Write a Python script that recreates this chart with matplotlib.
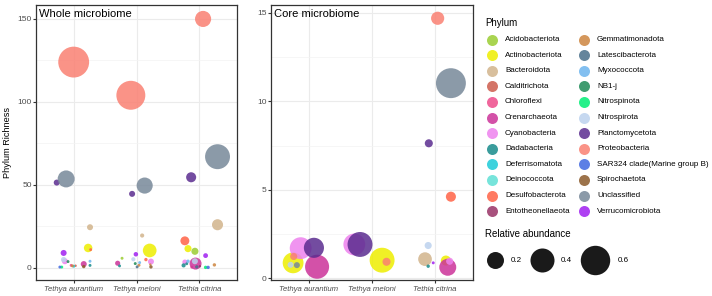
import numpy as np
import matplotlib
matplotlib.use("Agg")
import matplotlib.pyplot as plt
from matplotlib.ticker import MultipleLocator

plt.rcParams["font.family"] = ["Liberation Sans", "DejaVu Sans"]

species = ["Tethya aurantium", "Tethya meloni", "Tethia citrina"]

phyla = [
    "Acidobacteriota", "Actinobacteriota", "Bacteroidota", "Calditrichota",
    "Chloroflexi", "Crenarchaeota", "Cyanobacteria", "Dadabacteria",
    "Deferrisomatota", "Deinococcota", "Desulfobacterota", "Entotheonellaeota",
    "Gemmatimonadota", "Latescibacterota", "Myxococcota", "NB1-j",
    "Nitrospinota", "Nitrospirota", "Planctomycetota", "Proteobacteria",
    "SAR324 clade(Marine group B)", "Spirochaetota", "Unclassified",
    "Verrucomicrobiota",
]
phylum_colors = [
    "#9ACD32", "#EEEE00", "#D2B48C", "#CD5C4C",
    "#EE4B8B", "#CC3399", "#EE82EE", "#178B8B",
    "#1CCAD8", "#5FE0D5", "#FF6347", "#993366",
    "#CD853F", "#4A708B", "#6CB4EE", "#1E8B57",
    "#00EE76", "#BCD2EE", "#5B2C8F", "#FA8072",
    "#4169E1", "#8B5A2B", "#778899", "#A020F0",
]

# Whole microbiome: species index, jitter, phylum, richness, relative abundance
whole_species = [0, 0, 0, 0, 0, 0, 0, 0, 0, 0, 0, 0, 0, 0, 0, 0, 0, 0, 0, 0,
                 1, 1, 1, 1, 1, 1, 1, 1, 1, 1, 1, 1, 1, 1, 1, 1, 1, 1,
                 2, 2, 2, 2, 2, 2, 2, 2, 2, 2, 2, 2, 2, 2, 2, 2, 2, 2, 2, 2]
whole_jitter = [0.00, -0.12, -0.27, 0.26, 0.23, 0.27, -0.16, -0.16, -0.14, 0.16,
                -0.09, 0.26, 0.26, 0.16, -0.04, -0.02, 0.00, -0.22, -0.19, 0.03,
                -0.09, 0.13, -0.07, 0.09, 0.21, -0.01, -0.23, -0.05, 0.15, 0.23,
                -0.02, 0.05, -0.30, -0.27, 0.01, 0.04, 0.23, 0.22,
                0.06, 0.29, -0.13, 0.29, -0.23, -0.18, -0.07, 0.10, -0.06, -0.07,
                -0.23, -0.25, 0.24, 0.10, 0.14, -0.18, -0.04, -0.12, -0.20, 0.01]
whole_phylum = ["Proteobacteria", "Unclassified", "Planctomycetota", "Bacteroidota",
                "Actinobacteriota", "Desulfobacterota", "Verrucomicrobiota", "Nitrospirota",
                "Cyanobacteria", "Crenarchaeota", "NB1-j", "Myxococcota", "Dadabacteria",
                "Spirochaetota", "Chloroflexi", "Gemmatimonadota", "Deferrisomatota",
                "SAR324 clade(Marine group B)", "Nitrospinota", "Calditrichota",
                "Proteobacteria", "Unclassified", "Planctomycetota", "Bacteroidota",
                "Actinobacteriota", "Verrucomicrobiota", "Acidobacteriota", "Nitrospirota",
                "Desulfobacterota", "Cyanobacteria", "NB1-j", "Myxococcota", "Crenarchaeota",
                "Dadabacteria", "Latescibacterota", "Gemmatimonadota", "Spirochaetota",
                "Gemmatimonadota",
                "Proteobacteria", "Unclassified", "Planctomycetota", "Bacteroidota",
                "Desulfobacterota", "Actinobacteriota", "Acidobacteriota", "Verrucomicrobiota",
                "Crenarchaeota", "Nitrospirota", "Cyanobacteria", "Dadabacteria",
                "Gemmatimonadota", "Nitrospinota", "SAR324 clade(Marine group B)",
                "Myxococcota", "Latescibacterota", "Chloroflexi", "Dadabacteria",
                "Entotheonellaeota"]
whole_richness = [124, 53.6, 51.4, 24.5, 12, 11, 9, 5, 4, 2.3, 3.8, 4, 1.5,
                  0.8, 1.5, 1.2, 1, 0.5, 0.5, 1.3,
                  104, 49.6, 44.6, 19.5, 10.5, 8.2, 5.8, 5.2, 5, 3.8, 2.6, 3.2, 2.8,
                  1.2, 0.6, 1.6, 0.6, 2.0,
                  150, 67, 54.6, 26, 16.3, 11.6, 10, 7.4, 2.6, 4, 3.5, 1.5,
                  1.8, 0.3, 0.3, 4, 0.6, 0.5, 2.5, 1.0]
whole_abund = [0.66, 0.20, 0.025, 0.025, 0.05, 0.006, 0.025, 0.02, 0.025, 0.025,
               0.006, 0.006, 0.006, 0.008, 0.006, 0.006, 0.006, 0.006, 0.006, 0.004,
               0.58, 0.18, 0.025, 0.012, 0.13, 0.014, 0.006, 0.012, 0.008, 0.025,
               0.006, 0.006, 0.018, 0.006, 0.006, 0.006, 0.008, 0.004,
               0.18, 0.43, 0.07, 0.085, 0.055, 0.035, 0.035, 0.016, 0.10, 0.025,
               0.018, 0.012, 0.008, 0.008, 0.008, 0.008, 0.008, 0.006, 0.006, 0.004]

# Core microbiome
core_species = [0, 0, 0, 0, 0, 0, 0,
                1, 1, 1, 1,
                2, 2, 2, 2, 2, 2, 2, 2, 2, 2, 2]
core_jitter = [-0.13, 0.08, -0.25, 0.13, -0.24, -0.29, -0.19,
               -0.28, -0.19, 0.16, 0.23,
               0.04, 0.25, -0.10, 0.25, -0.11, -0.16, -0.03, -0.11, 0.17, 0.20, 0.23]
core_phylum = ["Cyanobacteria", "Planctomycetota", "Actinobacteriota", "Crenarchaeota",
               "Proteobacteria", "Nitrospirota", "Unclassified",
               "Cyanobacteria", "Planctomycetota", "Actinobacteriota", "Proteobacteria",
               "Proteobacteria", "Unclassified", "Planctomycetota", "Desulfobacterota",
               "Nitrospirota", "Bacteroidota", "Verrucomicrobiota", "Dadabacteria",
               "Actinobacteriota", "Crenarchaeota", "Cyanobacteria"]
core_richness = [1.7, 1.72, 0.87, 0.65, 1.23, 0.76, 0.74,
                 1.91, 1.91, 1.02, 0.93,
                 14.7, 11.03, 7.63, 4.61, 1.85, 1.08, 0.87, 0.68, 1.0, 0.62, 0.96]
core_abund = [0.33, 0.28, 0.30, 0.40, 0.035, 0.025, 0.025,
              0.33, 0.43, 0.43, 0.045,
              0.12, 0.62, 0.045, 0.07, 0.035, 0.13, 0.006, 0.008, 0.07, 0.20, 0.035]

size_breaks = [0.2, 0.4, 0.6]

color_of = dict(zip(phyla, phylum_colors))
ALPHA = 0.85


def bubble_size(v):
    d_px = 38 * np.sqrt(np.asarray(v, dtype=float))
    return (d_px * 0.72) ** 2


def draw_panel(ax, sp, jit, phy, rich, ab, title, ylim, major, minor):
    # ggplot draws in data order, which here is alphabetical by phylum
    order = np.argsort([phyla.index(p) for p in phy], kind="stable")
    x = np.array(sp, dtype=float) + 1 + np.array(jit)
    ax.scatter(x[order], np.array(rich)[order], s=bubble_size(np.array(ab)[order]),
               c=[color_of[phy[i]] for i in order], alpha=ALPHA, linewidths=0,
               zorder=3)
    ax.set_xlim(0.4, 3.6)
    ax.set_ylim(*ylim)
    ax.set_xticks([1, 2, 3])
    ax.set_xticklabels(species, style="italic", fontsize=5.6, color="#4D4D4D")
    ax.yaxis.set_major_locator(MultipleLocator(major))
    ax.yaxis.set_minor_locator(MultipleLocator(minor))
    ax.xaxis.set_minor_locator(plt.NullLocator())
    ax.tick_params(axis="y", labelsize=6, labelcolor="#4D4D4D", length=2,
                   color="#333333", pad=1)
    ax.tick_params(axis="x", length=2.5, color="#333333", pad=1.5)
    ax.tick_params(which="minor", length=0)
    ax.grid(True, which="major", color="#EBEBEB", linewidth=0.8, zorder=0)
    ax.grid(True, which="minor", axis="y", color="#F3F3F3", linewidth=0.5, zorder=0)
    ax.set_axisbelow(True)
    for s in ax.spines.values():
        s.set_color("#333333")
        s.set_linewidth(0.9)
    ax.text(0.015, 0.985, title, transform=ax.transAxes, ha="left", va="top",
            fontsize=8, color="black")


fig = plt.figure(figsize=(7.12, 2.96), dpi=100)
fig.patch.set_facecolor("white")
ax1 = fig.add_axes([36 / 712, 16 / 296, 201 / 712, 275 / 296])
ax2 = fig.add_axes([271 / 712, 16 / 296, 202 / 712, 275 / 296])

draw_panel(ax1, whole_species, whole_jitter, whole_phylum, whole_richness, whole_abund,
           "Whole microbiome", (-7.3, 158.4), 50, 25)
draw_panel(ax2, core_species, core_jitter, core_phylum, core_richness, core_abund,
           "Core microbiome", (-0.1, 15.45), 5, 2.5)
ax1.set_ylabel("Phylum Richness", fontsize=6.6, labelpad=4)

# legend area in pixel coordinates
lg = fig.add_axes([0, 0, 1, 1])
lg.set_xlim(0, 712)
lg.set_ylim(296, 0)
lg.axis("off")
lg.patch.set_alpha(0)

lg.text(485, 23, "Phylum", fontsize=7, va="center", ha="left")
for i, (p, c) in enumerate(zip(phyla, phylum_colors)):
    col, row = divmod(i, 12)
    cx = 492 + col * 92
    cy = 39.5 + row * 15.6
    lg.scatter([cx], [cy], s=(11 * 0.72) ** 2, color=c, alpha=ALPHA, linewidths=0)
    lg.text(cx + 13, cy, p, fontsize=5.8, va="center", ha="left")

lg.text(485, 234, "Relative abundance", fontsize=7, va="center", ha="left")
size_x = [495, 542, 595]
label_x = [511, 561, 618]
for v, sx, tx in zip(size_breaks, size_x, label_x):
    lg.scatter([sx], [260], s=bubble_size(v), color="#1A1A1A", linewidths=0)
    lg.text(tx, 260, f"{v:.1f}", fontsize=5.8, va="center", ha="left")

fig.savefig("out.png", dpi=100, facecolor="white")
